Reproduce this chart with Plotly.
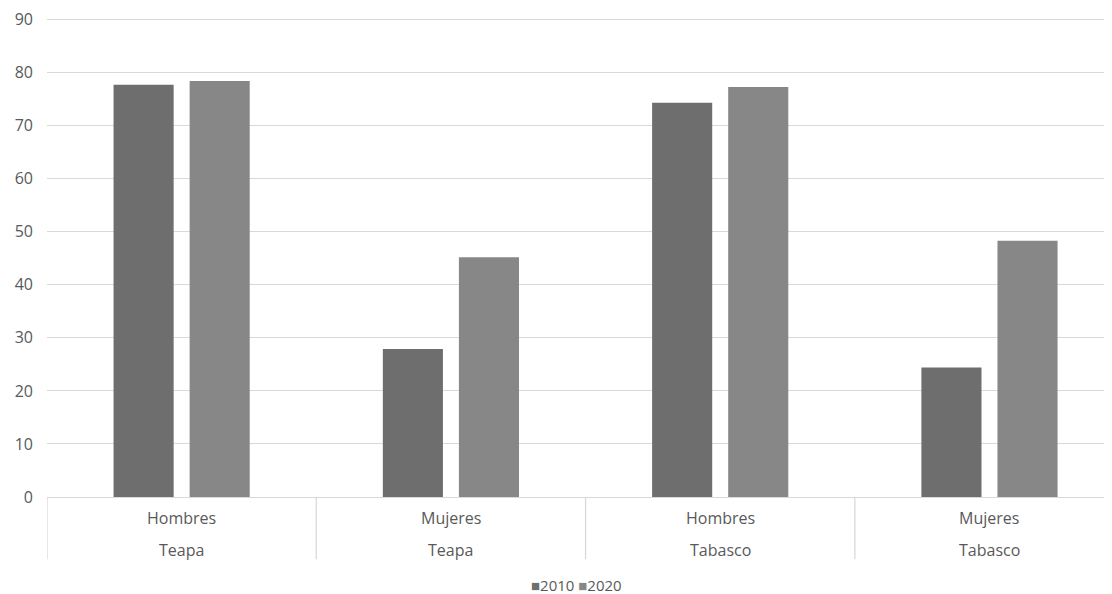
import plotly.graph_objects as go

groups = ["Hombres Teapa", "Mujeres Teapa", "Hombres Tabasco", "Mujeres Tabasco"]
inner_labels = ["Hombres", "Mujeres", "Hombres", "Mujeres"]
outer_labels = ["Teapa", "Teapa", "Tabasco", "Tabasco"]
series_names = ["2010", "2020"]
values_2010 = [77.7, 27.9, 74.3, 24.4]
values_2020 = [78.4, 45.2, 77.3, 48.3]
y_ticks = [0, 10, 20, 30, 40, 50, 60, 70, 80, 90]

colors = {"2010": "#6e6e6e", "2020": "#878787"}
font_family = "Open Sans, Noto Sans, sans-serif"
text_color = "#595959"
grid_color = "#d9d9d9"

x_idx = list(range(len(groups)))

fig = go.Figure()
for name, vals in zip(series_names, [values_2010, values_2020]):
    fig.add_trace(go.Bar(x=x_idx, y=vals, name=name,
                         marker=dict(color=colors[name], line=dict(width=0)),
                         showlegend=False))

# page body has an 8px margin, so the figure is offset by 8px
W, H = 1104, 586
y_top = 90.3
ml, mr, mt, mb = 39, 0, 8.4, 96.5
plot_h = H - mt - mb

fig.update_layout(
    width=W, height=H,
    margin=dict(l=ml, r=mr, t=mt, b=mb, pad=0),
    paper_bgcolor="white", plot_bgcolor="white",
    barmode="group", bargap=0.435, bargroupgap=0.21,
    font=dict(family=font_family, size=15, color=text_color),
    showlegend=False,
)
fig.update_xaxes(range=[-0.5, 3.455], showticklabels=False, showgrid=False,
                 zeroline=False, showline=True, linecolor=grid_color, linewidth=1.3,
                 ticks="", fixedrange=True)
fig.update_yaxes(range=[0, y_top], tickvals=y_ticks, showgrid=True, gridcolor=grid_color,
                 gridwidth=1.3, zeroline=False, showline=False, ticks="",
                 ticklabelstandoff=13, ticklabeloverflow="allow",
                 tickfont=dict(size=16, color=text_color))

# category labels
for i, (a, b) in enumerate(zip(inner_labels, outer_labels)):
    fig.add_annotation(x=i, y=0, xref="x", yref="paper", text=a, showarrow=False,
                       yanchor="middle", yshift=-21, font=dict(size=16, color=text_color))
    fig.add_annotation(x=i, y=0, xref="x", yref="paper", text=b, showarrow=False,
                       yanchor="middle", yshift=-52.5, font=dict(size=16, color=text_color))

# dividers between categories
div_len = 62.5 / plot_h
for i in range(len(groups) + 1):
    fig.add_shape(type="line", xref="x", yref="paper", x0=i - 0.5, x1=i - 0.5,
                  y0=0, y1=-div_len, line=dict(color=grid_color, width=1.3))

# legend
legend_text = " ".join(
    f"<span style='color:{colors[n]}'>■</span>{n}" for n in series_names)
fig.add_annotation(x=(568 - ml) / (W - ml - mr), y=0, xref="paper", yref="paper",
                   yshift=-(577 - (H - mb)), yanchor="middle", xanchor="center",
                   text=legend_text, showarrow=False,
                   font=dict(size=15, color=text_color))

fig.write_html("out.html")
